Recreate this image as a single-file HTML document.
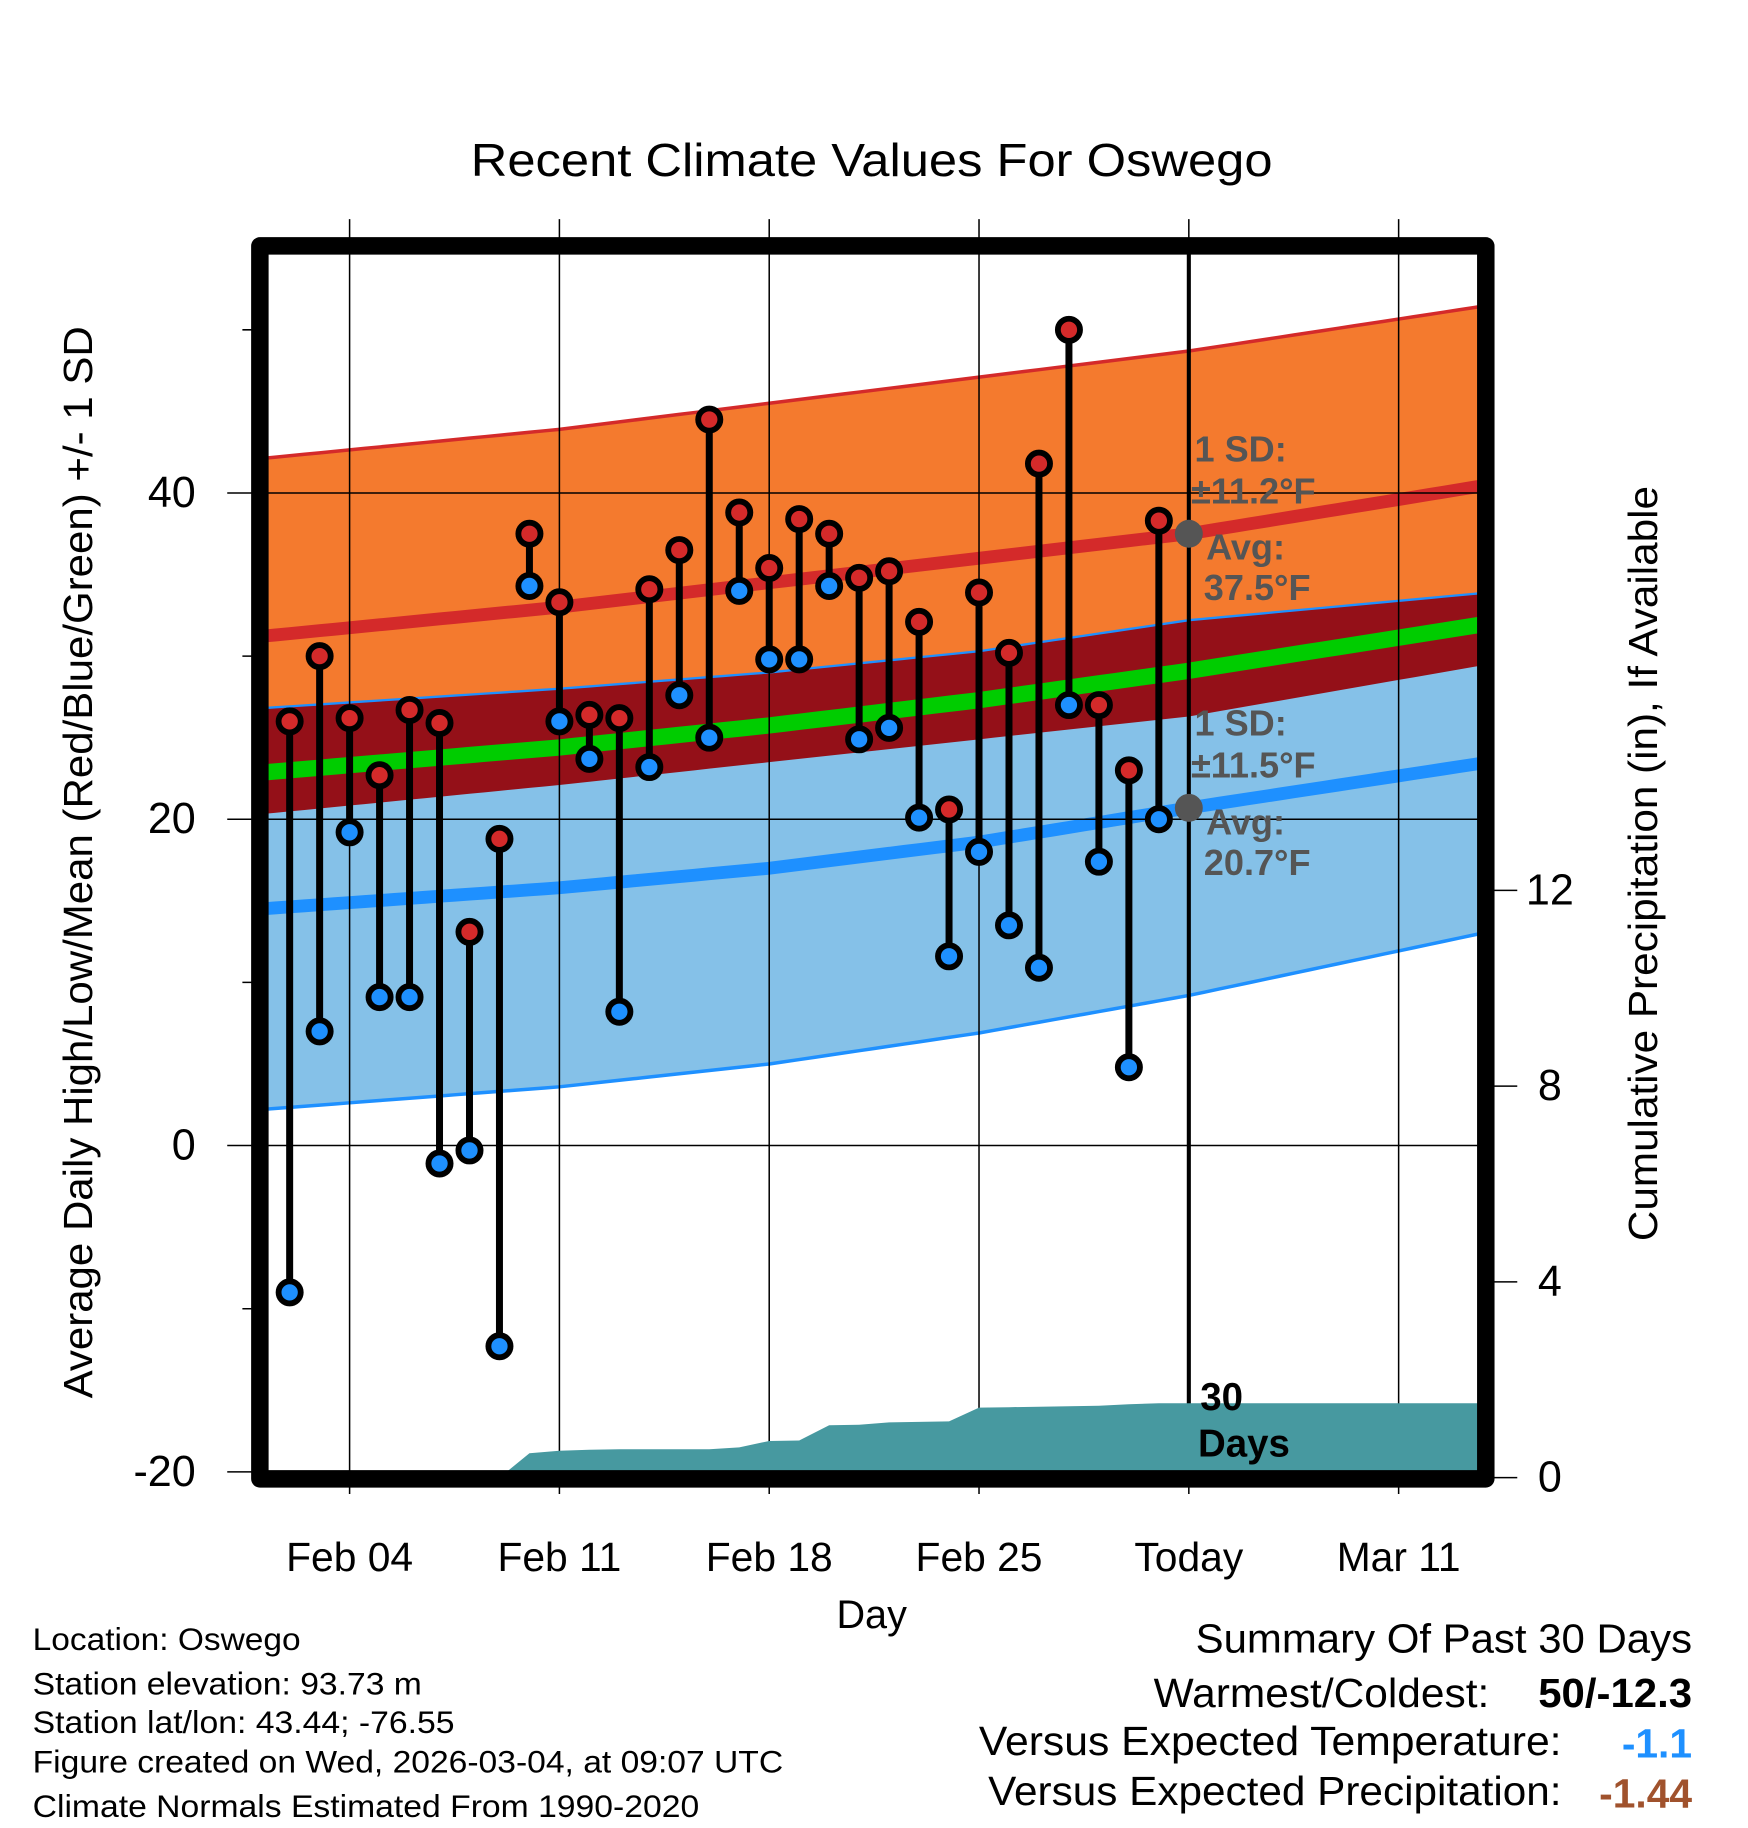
<!DOCTYPE html>
<html><head><meta charset="utf-8"><style>
html,body{margin:0;padding:0;background:#fff;}
svg{display:block;font-family:"Liberation Sans",Arial,sans-serif;}
</style></head><body>
<svg id="chart" width="1748" height="1828" viewBox="0 0 1500 1568.6" xmlns="http://www.w3.org/2000/svg">
<defs><clipPath id="plotclip"><rect x="230" y="215" width="1038" height="1047"/></clipPath></defs>
<g id="bands" clip-path="url(#plotclip)"></g>
<g id="grid"></g>
<g id="precip" clip-path="url(#plotclip)"></g>
<g id="marks"></g>
<g id="annot"></g>
<rect x="223" y="211" width="1052" height="1058" fill="none" stroke="#000" stroke-width="15" stroke-linejoin="round"/>
<g id="axes"></g>
<text x="748" y="151" font-size="40" text-anchor="middle" textLength="688" lengthAdjust="spacingAndGlyphs">Recent Climate Values For Oswego</text>
<text transform="translate(79,740) rotate(-90)" font-size="35" text-anchor="middle" textLength="920" lengthAdjust="spacingAndGlyphs">Average Daily High/Low/Mean (Red/Blue/Green) +/- 1 SD</text>
<text transform="translate(1422,741) rotate(-90)" font-size="35" text-anchor="middle" textLength="648" lengthAdjust="spacingAndGlyphs">Cumulative Precipitation (in), If Available</text>
<text x="748" y="1397" font-size="34" text-anchor="middle">Day</text>
<g font-size="27">
<text x="28" y="1416" textLength="230" lengthAdjust="spacingAndGlyphs">Location: Oswego</text>
<text x="28" y="1454" textLength="334" lengthAdjust="spacingAndGlyphs">Station elevation: 93.73 m</text>
<text x="28" y="1487" textLength="362" lengthAdjust="spacingAndGlyphs">Station lat/lon: 43.44; -76.55</text>
<text x="28" y="1521" textLength="644" lengthAdjust="spacingAndGlyphs">Figure created on Wed, 2026-03-04, at 09:07 UTC</text>
<text x="28" y="1559" textLength="572" lengthAdjust="spacingAndGlyphs">Climate Normals Estimated From 1990-2020</text>
</g>
<g font-size="35" text-anchor="end">
<text x="1452" y="1418" textLength="426" lengthAdjust="spacingAndGlyphs">Summary Of Past 30 Days</text>
<text x="1278" y="1465" textLength="288" lengthAdjust="spacingAndGlyphs">Warmest/Coldest:</text>
<text x="1452" y="1465" font-weight="bold" textLength="132" lengthAdjust="spacingAndGlyphs">50/-12.3</text>
<text x="1340" y="1506" textLength="500" lengthAdjust="spacingAndGlyphs">Versus Expected Temperature:</text>
<text x="1452" y="1508" font-weight="bold" fill="#1e90ff">-1.1</text>
<text x="1340" y="1549" textLength="492" lengthAdjust="spacingAndGlyphs">Versus Expected Precipitation:</text>
<text x="1452" y="1551" font-weight="bold" fill="#a0522d">-1.44</text>
</g>
</svg>
<script>
const days=[2,3,4,5,6,7,8,9,10,11,12,13,14,15,16,17,18,19,20,21,22,23,24,25,26,27,28,29,30,31];
const highs=[26,30,26.2,22.7,26.7,25.9,13.1,18.8,37.5,33.3,26.4,26.2,34.1,36.5,44.5,38.8,35.4,38.4,37.5,34.8,35.2,32.1,20.6,33.9,30.2,41.8,50,27,23,38.3];
const lows=[-9,7,19.2,9.1,9.1,-1.1,-0.3,-12.3,34.3,26,23.7,8.2,23.2,27.6,25,34,29.8,29.8,34.3,24.9,25.6,20.1,11.6,18,13.5,10.9,27,17.4,4.8,20];
const precip=[0,0,0,0,0,0,0,0,0.5,0.55,0.57,0.58,0.58,0.58,0.58,0.62,0.75,0.76,1.07,1.08,1.13,1.14,1.15,1.43,1.44,1.45,1.46,1.47,1.5,1.52];
const normDays=[1,11,18,25,32,42];
const highAvg=[31.2,33.0,34.5,36.0,37.5,40.5];
const highSD=[10.9,10.9,11,11.1,11.2,11.0];
const lowAvg=[14.5,15.8,17,18.6,20.7,23.5];
const lowSD=[12.3,12.2,12,11.7,11.5,10.4];
const tickDays=[4,11,18,25,32,39];
const tickLabels=["Feb 04","Feb 11","Feb 18","Feb 25","Today","Mar 11"];
const yTicks=[-20,0,20,40];
const yMinor=[-10,10,30,50];
const y2Ticks=[0,4,8,12];

const NS="http://www.w3.org/2000/svg";
const xs=d=>300+(d-4)*25.72;
const ys=v=>983-14*v;
const y2s=p=>1268-42*p;
function mk(tag,attrs,parent){const e=document.createElementNS(NS,tag);for(const k in attrs)e.setAttribute(k,attrs[k]);parent.appendChild(e);return e;}
function interp(arr,d){for(let i=0;i<normDays.length-1;i++){if(d<=normDays[i+1]){const t=(d-normDays[i])/(normDays[i+1]-normDays[i]);return arr[i]+(arr[i+1]-arr[i])*t;}}return arr[arr.length-1];}
const smp=[];for(let d=1;d<=42;d+=0.5)smp.push(d);
function band(f1,f2,fill,name){const pts=smp.map(d=>xs(d)+","+ys(f1(d))).concat(smp.slice().reverse().map(d=>xs(d)+","+ys(f2(d))));const p=mk("polygon",{points:pts.join(" "),fill:fill},document.getElementById("bands"));

}
function line(f,stroke,w,name){const p=mk("polyline",{points:smp.map(d=>xs(d)+","+ys(f(d))).join(" "),fill:"none",stroke:stroke,"stroke-width":w},document.getElementById("bands"));

}
const hA=d=>interp(highAvg,d),hS=d=>interp(highSD,d),lA=d=>interp(lowAvg,d),lS=d=>interp(lowSD,d);
band(d=>hA(d)+hS(d),d=>hA(d)-hS(d),"#f47a2e","high-sd-band");
band(d=>lA(d)+lS(d),d=>lA(d)-lS(d),"#85c1e8","low-sd-band");
band(d=>Math.min(lA(d)+lS(d),hA(d)+hS(d)),d=>hA(d)-hS(d),"#941018","overlap-band");
line(d=>(hA(d)+lA(d))/2,"#00cc00",14,"mean-normal-line");
line(d=>hA(d),"#d42a2a",11,"high-normal-line");
line(d=>lA(d),"#1e90ff",11,"low-normal-line");
line(d=>hA(d)+hS(d),"#d42a2a",3,"high-plus-sd-line");
line(d=>lA(d)+lS(d),"#1e90ff",2,"low-plus-sd-line");
line(d=>lA(d)-lS(d),"#1e90ff",3,"low-minus-sd-line");

const grid=document.getElementById("grid");
tickDays.forEach((d,i)=>{const l=mk("line",{x1:xs(d),x2:xs(d),y1:188,y2:1282,stroke:"#000","stroke-width":1.3},grid);


if(d===32){const tl=mk("line",{x1:xs(d),x2:xs(d),y1:215,y2:1262,stroke:"#000","stroke-width":3.5},grid);

}
const t=mk("text",{x:xs(d),y:1348,"font-size":35,"text-anchor":"middle"},grid);t.textContent=tickLabels[i];

});
yTicks.forEach(v=>{const l=mk("line",{x1:195,x2:1268,y1:ys(v),y2:ys(v),stroke:"#000","stroke-width":1.3},grid);


const t=mk("text",{x:168,y:ys(v)+12,"font-size":37,"text-anchor":"end"},grid);t.textContent=v;

});
yMinor.forEach(v=>{const l=mk("line",{x1:208,x2:225,y1:ys(v),y2:ys(v),stroke:"#000","stroke-width":1.3},grid);

});
y2Ticks.forEach(p=>{const l=mk("line",{x1:1275,x2:1302,y1:y2s(p),y2:y2s(p),stroke:"#000","stroke-width":1.3},grid);


const t=mk("text",{x:1330,y:y2s(p)+12,"font-size":37,"text-anchor":"middle"},grid);t.textContent=p;

});

const pg=document.getElementById("precip");
let pts=[xs(days[0])+","+y2s(0)];
days.forEach((d,i)=>{pts.push(xs(d)+","+y2s(precip[i]));});
pts.push("1280,"+y2s(precip[precip.length-1]));pts.push("1280,"+y2s(0));
const pp=mk("polygon",{points:pts.join(" "),fill:"#4799a0"},pg);



const mg=document.getElementById("marks");
days.forEach((d,i)=>{const g=mk("g",{},mg);


mk("line",{x1:xs(d),x2:xs(d),y1:ys(highs[i]),y2:ys(lows[i]),stroke:"#000","stroke-width":6},g);
const h=mk("circle",{cx:xs(d),cy:ys(highs[i]),r:9.5,fill:"#d42a2a",stroke:"#000","stroke-width":5},g);


const l=mk("circle",{cx:xs(d),cy:ys(lows[i]),r:9.5,fill:"#1e90ff",stroke:"#000","stroke-width":5},g);

});

const an=document.getElementById("annot");
function txt(x,y,s,name,extra){const t=mk("text",Object.assign({x:x,y:y,"font-size":31,"font-weight":"bold",fill:"#555"},extra||{}),an);t.textContent=s;

return t;}
const today=32;
const dh=mk("circle",{cx:xs(today),cy:ys(interp(highAvg,today)),r:12,fill:"#555"},an);


const dl=mk("circle",{cx:xs(today),cy:ys(interp(lowAvg,today)),r:12,fill:"#555"},an);


txt(1025,396,"1 SD:","high-sd-label");
txt(1022,432,"±11.2°F","high-sd-value");
txt(1035,480,"Avg:","high-avg-label");
txt(1033,515,"37.5°F","high-avg-value");
txt(1025,631,"1 SD:","low-sd-label");
txt(1022,667,"±11.5°F","low-sd-value");
txt(1035,716,"Avg:","low-avg-label");
txt(1033,751,"20.7°F","low-avg-value");
txt(1030,1210,"30","days-count-label",{fill:"#000","font-size":33});
txt(1028,1250,"Days","days-word-label",{fill:"#000","font-size":33});
</script>
</body></html>
